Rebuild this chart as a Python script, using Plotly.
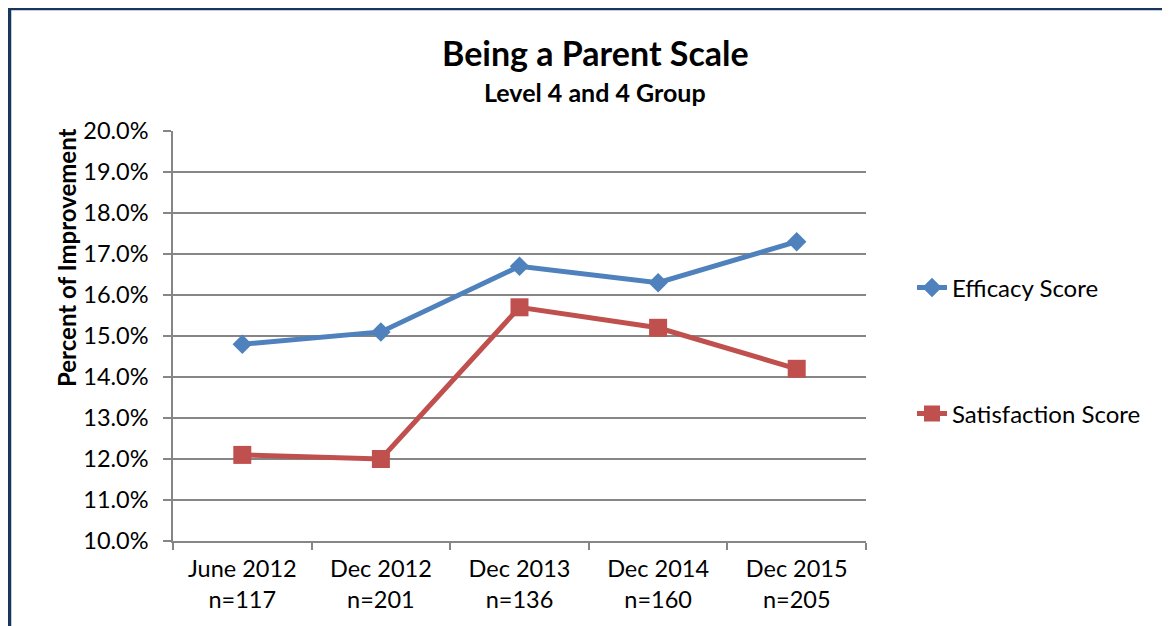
import plotly.graph_objects as go

# ------------------------------------------------------------
# Data
# ------------------------------------------------------------
periods = ["June 2012", "Dec 2012", "Dec 2013", "Dec 2014", "Dec 2015"]
sample_sizes = ["n=117", "n=201", "n=136", "n=160", "n=205"]
efficacy = [14.8, 15.1, 16.7, 16.3, 17.3]
satisfaction = [12.1, 12.0, 15.7, 15.2, 14.2]
y_ticks = [10, 11, 12, 13, 14, 15, 16, 17, 18, 19, 20]

categories = [f"{p}<br>{n}" for p, n in zip(periods, sample_sizes)]

# ------------------------------------------------------------
# Layout geometry (screen pixels; page body adds an 8px offset)
# ------------------------------------------------------------
OFF = 8
W, H = 1170 - OFF, 626 - OFF
L, T = 173 - OFF, 131 - OFF
R = W - (866 - OFF)
B = H - (541 - OFF)
plot_w, plot_h = W - L - R, H - T - B


def px_x(p):
    return (p - OFF - L) / plot_w


def px_y(p):
    return (H - B - (p - OFF)) / plot_h


FONT = "Lato, Calibri, Carlito, sans-serif"
BLUE = "#4F81BD"
RED = "#C0504D"
GRID = "#868686"

fig = go.Figure()

fig.add_trace(go.Scatter(
    x=categories, y=efficacy, mode="lines+markers", name="Efficacy Score",
    line=dict(color=BLUE, width=5),
    marker=dict(symbol="diamond", size=15, color=BLUE),
    legend="legend",
))

fig.add_trace(go.Scatter(
    x=categories, y=satisfaction, mode="lines+markers", name="Satisfaction Score",
    line=dict(color=RED, width=5),
    marker=dict(symbol="square", size=18, color=RED),
    legend="legend2",
))

fig.update_layout(
    width=W, height=H,
    margin=dict(l=L, r=R, t=T, b=B),
    plot_bgcolor="white", paper_bgcolor="white",
    font=dict(family=FONT, color="black", size=24),
    showlegend=True,
    legend=dict(x=px_x(912), y=px_y(288), xanchor="left", yanchor="middle",
                font=dict(size=24), bgcolor="rgba(0,0,0,0)"),
    legend2=dict(x=px_x(912), y=px_y(414), xanchor="left", yanchor="middle",
                 font=dict(size=24), bgcolor="rgba(0,0,0,0)"),
    xaxis=dict(
        type="category", range=[-0.5, 4.5],
        showline=True, linecolor=GRID, linewidth=1.5,
        ticks="outside", tickson="boundaries", ticklen=7, tickcolor=GRID, tickwidth=1.5,
        showgrid=False, tickfont=dict(size=23.5), ticklabelstandoff=6, fixedrange=True,
    ),
    yaxis=dict(
        range=[10, 20], tickvals=y_ticks,
        ticktext=[f"{v:.1f}%" for v in y_ticks],
        showline=True, linecolor=GRID, linewidth=1.5,
        ticks="outside", ticklen=8, tickcolor=GRID, tickwidth=1.5,
        showgrid=True, gridcolor=GRID, gridwidth=1.5, zeroline=False,
        tickfont=dict(size=23.5), ticklabelstandoff=10,
    ),
    annotations=[
        dict(text="<b>Being a Parent Scale</b>", x=px_x(595), y=px_y(52),
             xref="paper", yref="paper", xanchor="center", yanchor="middle",
             showarrow=False, font=dict(size=34)),
        dict(text="<b>Level 4 and 4 Group</b>", x=px_x(595), y=px_y(92),
             xref="paper", yref="paper", xanchor="center", yanchor="middle",
             showarrow=False, font=dict(size=25)),
        dict(text="<b>Percent of Improvement</b>", x=px_x(66), y=px_y(258),
             xref="paper", yref="paper", xanchor="center", yanchor="middle",
             textangle=-90, showarrow=False, font=dict(size=24)),
    ],
    shapes=[
        dict(type="rect", xref="paper", yref="paper",
             x0=px_x(9.5), x1=px_x(1200), y0=px_y(8.5), y1=px_y(700),
             line=dict(color="#17375E", width=3.5), layer="above"),
    ],
)

fig.write_html("out.html")
